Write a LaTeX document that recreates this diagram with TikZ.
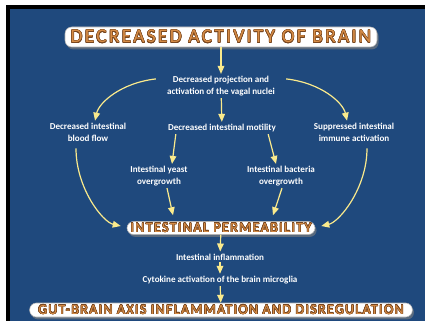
\documentclass[tikz,border=0pt]{standalone}
\usepackage{fontspec}
\setmainfont{Carlito}
\usepackage{contour}
\usetikzlibrary{arrows.meta,shadows}

\definecolor{slideblue}{RGB}{31,73,125}
\definecolor{arrowyellow}{RGB}{250,234,140}
\definecolor{titleorange}{RGB}{214,140,70}
\definecolor{titleedge}{RGB}{120,70,30}

\contourlength{0.32pt}
\newcommand{\headtext}[2][8]{\addfontfeatures{LetterSpace=#1}\color{titleorange}\contour{titleedge}{#2}}

\tikzset{
  headbox/.style={draw=gray!60, fill=white, rounded corners=5pt, inner sep=0pt,
    drop shadow={opacity=0.6, shadow xshift=1.2pt, shadow yshift=-1.8pt}},
  stagetext/.style={text=white, align=center, inner sep=1.5pt,
    font=\fontsize{6.8}{8.8}\selectfont\bfseries},
  flow/.style={arrowyellow, line width=0.9pt, -{Triangle[width=5pt,length=6pt]}},
}

\begin{document}
\begin{tikzpicture}[x=0.75pt,y=-0.75pt]
  \useasboundingbox (0,0) rectangle (425,321);
  \fill[white] (0,0) rectangle (425,321);
  \fill[black] (6,5) rectangle (430,330);
  \fill[slideblue] (10,9) rectangle (430,330);

  \node[headbox, minimum width=234pt, minimum height=15pt,
    font=\fontsize{14.5}{14.5}\selectfont] (brain) at (221,37)
    {\headtext[12]{DECREASED ACTIVITY OF BRAIN}};
  \node[stagetext] (vagal) at (221,86)
    {Decreased projection and\\activation of the vagal nuclei};
  \node[stagetext] (bloodflow) at (88,132) {Decreased intestinal\\blood flow};
  \node[stagetext] (motility) at (222,128) {Decreased intestinal motility};
  \node[stagetext] (immune) at (354,132) {Suppressed intestinal\\immune activation};
  \node[stagetext] (yeast) at (159,176) {Intestinal yeast\\overgrowth};
  \node[stagetext] (bacteria) at (281,176) {Intestinal bacteria\\overgrowth};
  \node[headbox, minimum width=141pt, minimum height=9.75pt,
    font=\fontsize{10.5}{10.5}\selectfont] (permeab) at (221,228)
    {\headtext[10]{INTESTINAL PERMEABILITY}};
  \node[stagetext] (inflam) at (220,257) {Intestinal inflammation};
  \node[stagetext] (cytokine) at (220,280) {Cytokine activation of the brain microglia};
  \node[headbox, minimum width=287pt, minimum height=10.5pt,
    font=\fontsize{10.5}{10.5}\selectfont] (axis) at (221,310)
    {\headtext[9.5]{GUT-BRAIN AXIS INFLAMMATION AND DISREGULATION}};

  \draw[flow] (brain) -- (vagal);
  \draw[flow] (vagal) -- (motility);
  \draw[flow] ([shift={(-9,5)}]vagal.north west)
    .. controls +(-35,4) and +(4,-18) .. ([shift={(7,0)}]bloodflow.north);
  \draw[flow] ([shift={(9,5)}]vagal.north east)
    .. controls +(35,4) and +(-4,-18) .. ([shift={(-7,0)}]immune.north);
  \draw[flow] ([shift={(10,0)}]motility.south west) -- ([shift={(13,0)}]yeast.north);
  \draw[flow] ([shift={(-10,0)}]motility.south east) -- ([shift={(-5,0)}]bacteria.north);
  \draw[flow] ([shift={(8,0)}]yeast.south) -- ([shift={(-48,-6)}]permeab.north);
  \draw[flow] ([shift={(1,0)}]bacteria.south) -- ([shift={(52,-6)}]permeab.north);
  \draw[flow] ([shift={(-12,5)}]bloodflow.south)
    .. controls +(0,40) and +(-18,-4) .. ([shift={(-6,-2)}]permeab.west);
  \draw[flow] ([shift={(13,5)}]immune.south)
    .. controls +(0,40) and +(18,-4) .. ([shift={(6,-2)}]permeab.east);
  \draw[flow] (permeab) -- (inflam);
  \draw[flow] (inflam) -- (cytokine);
  \draw[flow] (cytokine) -- (axis);
\end{tikzpicture}
\end{document}
